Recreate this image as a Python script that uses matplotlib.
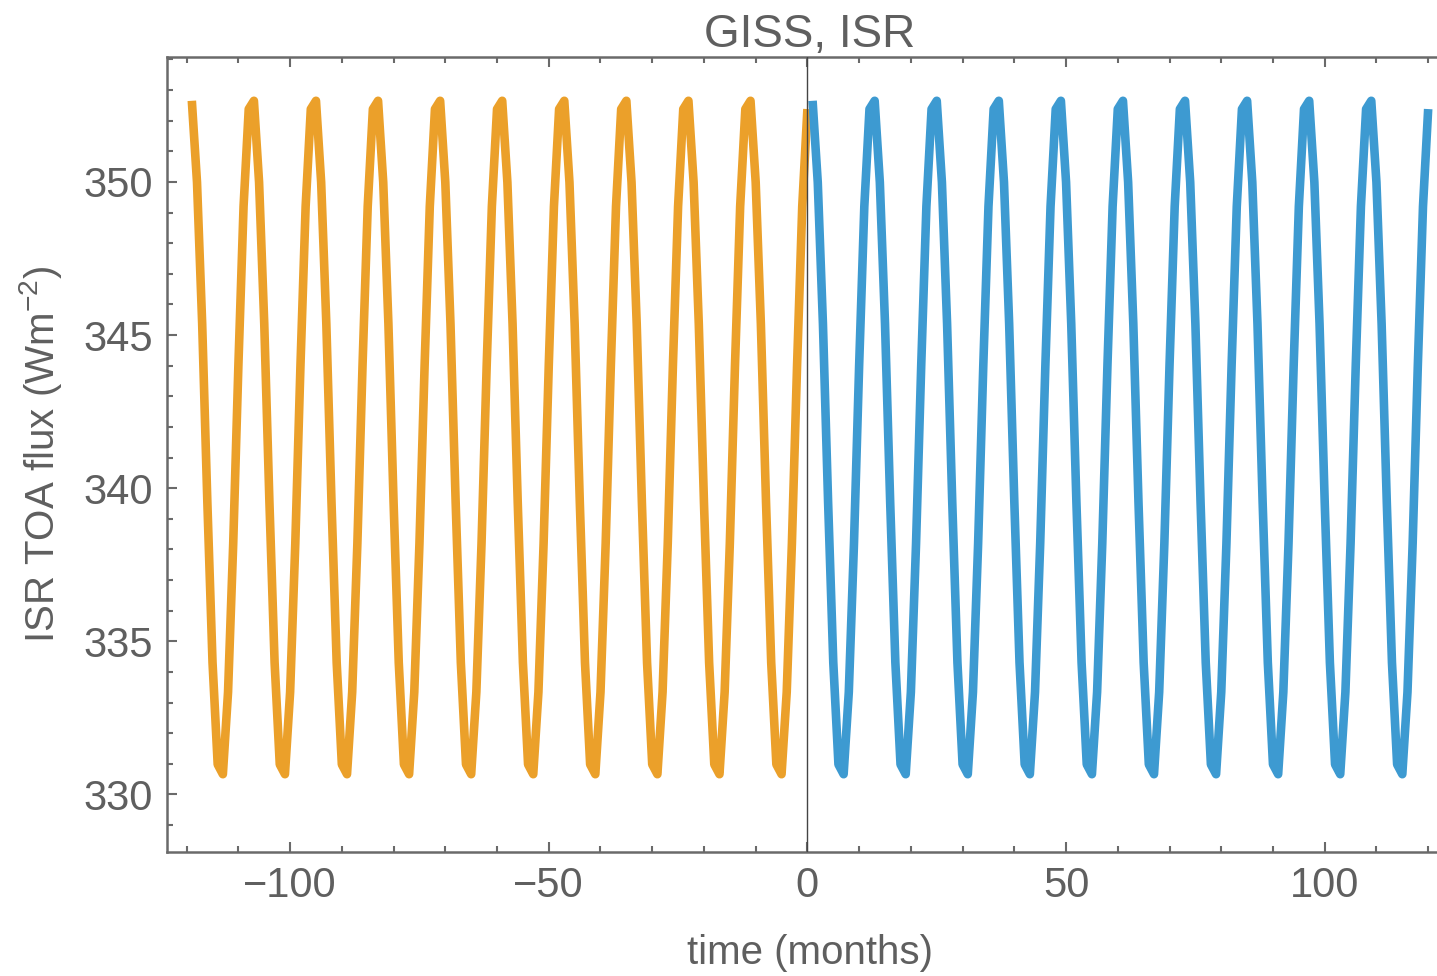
import numpy as np
import matplotlib
matplotlib.use("Agg")
import matplotlib.pyplot as plt
from matplotlib.ticker import MultipleLocator, FixedLocator

plt.rcParams['font.family'] = ['Liberation Sans', 'DejaVu Sans']
plt.rcParams['mathtext.default'] = 'regular'

# ---- data (months relative to change point; ISR TOA flux W m^-2) ----
time_before = np.arange(-119, 1)   # orange series: -119 .. 0
time_after = np.arange(1, 121)     # blue series: 1 .. 120

isr_before = [
    352.65, 349.99, 345.37, 339.54, 334.31, 330.98, 330.66, 333.34, 338.19, 344.01, 349.20, 352.38,
    352.65, 349.99, 345.37, 339.54, 334.31, 330.98, 330.66, 333.34, 338.19, 344.01, 349.20, 352.38,
    352.65, 349.99, 345.37, 339.54, 334.31, 330.98, 330.66, 333.34, 338.19, 344.01, 349.20, 352.38,
    352.65, 349.99, 345.37, 339.54, 334.31, 330.98, 330.66, 333.34, 338.19, 344.01, 349.20, 352.38,
    352.65, 349.99, 345.37, 339.54, 334.31, 330.98, 330.66, 333.34, 338.19, 344.01, 349.20, 352.38,
    352.65, 349.99, 345.37, 339.54, 334.31, 330.98, 330.66, 333.34, 338.19, 344.01, 349.20, 352.38,
    352.65, 349.99, 345.37, 339.54, 334.31, 330.98, 330.66, 333.34, 338.19, 344.01, 349.20, 352.38,
    352.65, 349.99, 345.37, 339.54, 334.31, 330.98, 330.66, 333.34, 338.19, 344.01, 349.20, 352.38,
    352.65, 349.99, 345.37, 339.54, 334.31, 330.98, 330.66, 333.34, 338.19, 344.01, 349.20, 352.38,
    352.65, 349.99, 345.37, 339.54, 334.31, 330.98, 330.66, 333.34, 338.19, 344.01, 349.20, 352.38,
]
isr_after = [
    352.65, 349.99, 345.37, 339.54, 334.31, 330.98, 330.66, 333.34, 338.19, 344.01, 349.20, 352.38,
    352.65, 349.99, 345.37, 339.54, 334.31, 330.98, 330.66, 333.34, 338.19, 344.01, 349.20, 352.38,
    352.65, 349.99, 345.37, 339.54, 334.31, 330.98, 330.66, 333.34, 338.19, 344.01, 349.20, 352.38,
    352.65, 349.99, 345.37, 339.54, 334.31, 330.98, 330.66, 333.34, 338.19, 344.01, 349.20, 352.38,
    352.65, 349.99, 345.37, 339.54, 334.31, 330.98, 330.66, 333.34, 338.19, 344.01, 349.20, 352.38,
    352.65, 349.99, 345.37, 339.54, 334.31, 330.98, 330.66, 333.34, 338.19, 344.01, 349.20, 352.38,
    352.65, 349.99, 345.37, 339.54, 334.31, 330.98, 330.66, 333.34, 338.19, 344.01, 349.20, 352.38,
    352.65, 349.99, 345.37, 339.54, 334.31, 330.98, 330.66, 333.34, 338.19, 344.01, 349.20, 352.38,
    352.65, 349.99, 345.37, 339.54, 334.31, 330.98, 330.66, 333.34, 338.19, 344.01, 349.20, 352.38,
    352.65, 349.99, 345.37, 339.54, 334.31, 330.98, 330.66, 333.34, 338.19, 344.01, 349.20, 352.38,
]

x_major = [-100, -50, 0, 50, 100]
y_major = [330, 335, 340, 345, 350]

title = "GISS, ISR"
xlabel = "time (months)"
ylabel = "ISR TOA flux (Wm$^{-2}$)"

# ---- styling ----
c_orange = '#EBA02A'
c_blue = '#3D9AD1'
c_frame = '#6a6a6a'
c_text = '#5f5f5f'

W, H = 1437, 976
fig = plt.figure(figsize=(W / 100, H / 100), dpi=100)
ax = fig.add_axes([167 / W, 1 - 852 / H, (1453 - 167) / W, (852 - 57) / H])

ax.plot(time_before, isr_before, color=c_orange, lw=6.2,
        solid_joinstyle='round', solid_capstyle='butt', zorder=2)
ax.plot(time_after, isr_after, color=c_blue, lw=6.2,
        solid_joinstyle='round', solid_capstyle='butt', zorder=2)
ax.axvline(0, color='#444444', lw=1.0, zorder=3)

ax.set_xlim(-123.8, 124.8)
ax.set_ylim(328.12, 354.08)

ax.xaxis.set_major_locator(FixedLocator(x_major))
ax.xaxis.set_minor_locator(MultipleLocator(10))
ax.yaxis.set_major_locator(FixedLocator(y_major))
ax.yaxis.set_minor_locator(MultipleLocator(1))

ax.tick_params(which='both', direction='in', top=True, right=True,
               color=c_frame, width=1.5, labelcolor=c_text, labelsize=30)
ax.tick_params(which='major', length=7.5, pad=10)
ax.tick_params(which='minor', length=4.5)

for s in ax.spines.values():
    s.set_color(c_frame)
    s.set_linewidth(1.8)

ax.set_title(title, fontsize=33, color=c_text, pad=4)
ax.set_xlabel(xlabel, fontsize=29, color=c_text, labelpad=20)
ax.set_ylabel(ylabel, fontsize=29, color=c_text, labelpad=14)

fig.savefig("out.png", dpi=100)
